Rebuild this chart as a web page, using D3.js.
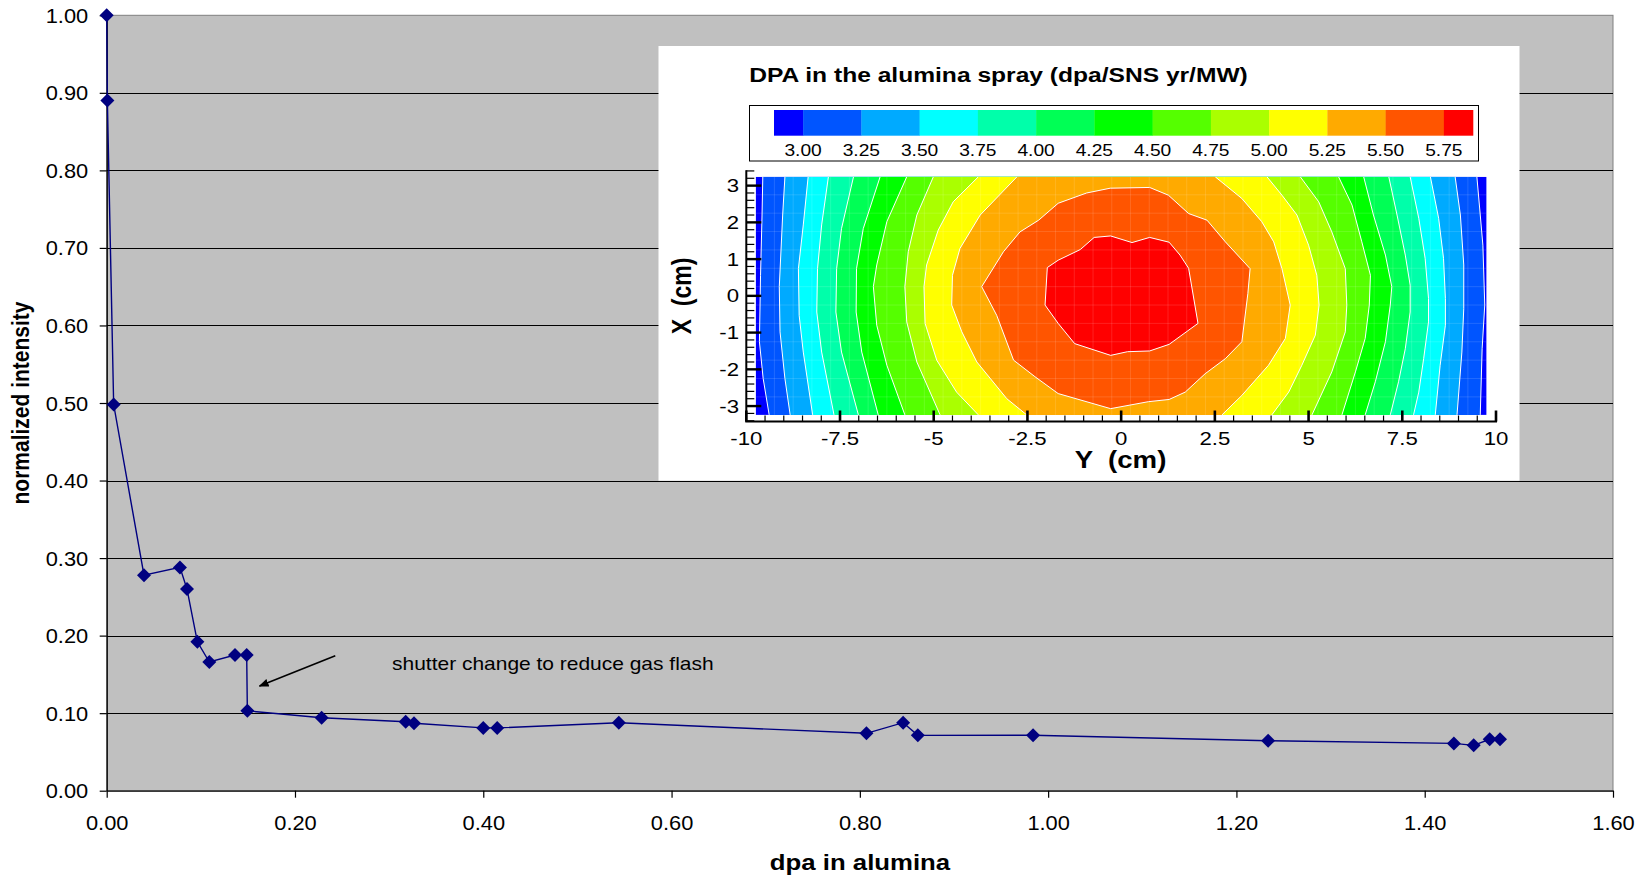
<!DOCTYPE html>
<html>
<head>
<meta charset="utf-8">
<script src="https://cdn.jsdelivr.net/npm/d3@7"></script>
<style>
  html, body { margin: 0; padding: 0; background: #ffffff; }
  svg { display: block; font-family: "Liberation Sans", Arial, Helvetica, sans-serif; }
</style>
</head>
<body>
<svg id="chart" width="1645" height="878"></svg>
<script>
// ---- Irradiation series: normalized intensity vs. dpa in alumina ----
const dpa = [0.000, 0.0007, 0.0074, 0.0396, 0.0778, 0.0853, 0.0963, 0.109, 0.1363, 0.1487,
             0.1494, 0.2283, 0.3176, 0.3264, 0.400, 0.4148, 0.544, 0.807, 0.846, 0.8616,
             0.984, 1.2337, 1.431, 1.452, 1.469, 1.480];
const intensity = [1.000, 0.890, 0.498, 0.278, 0.288, 0.260, 0.192, 0.166, 0.175, 0.175,
                   0.103, 0.094, 0.089, 0.087, 0.081, 0.081, 0.0877, 0.074, 0.0877, 0.0714,
                   0.0716, 0.0645, 0.061, 0.0585, 0.0663, 0.0663];
const xTicks = [0, 0.2, 0.4, 0.6, 0.8, 1.0, 1.2, 1.4, 1.6];
const yTicks = [0, 0.1, 0.2, 0.3, 0.4, 0.5, 0.6, 0.7, 0.8, 0.9, 1.0];

// annotation (data units)
const noteText = "shutter change to reduce gas flash";
const noteTextAt = [0.3031, 0.1557];
const noteArrowFrom = [0.2428, 0.1741];
const noteArrowTo = [0.1623, 0.1350];

// ---- Inset: DPA map in the alumina spray ----
const dpaLevels = [3.00, 3.25, 3.50, 3.75, 4.00, 4.25, 4.50, 4.75, 5.00, 5.25, 5.50, 5.75];
const bandColors = ["#0000ff", "#0055ff", "#00aaff", "#00ffff", "#00ffaa", "#00ff55", "#00ff00",
                    "#55ff00", "#aaff00", "#ffff00", "#ffaa00", "#ff5500", "#ff0000"];
const yCmTicks = [-10, -7.5, -5, -2.5, 0, 2.5, 5, 7.5, 10];
const xCmTicks = [-3, -2, -1, 0, 1, 2, 3];

// contour lines for levels 3.00 ... 5.25, points [Y cm, X cm] from top to bottom
const leftEdges = [
  [[-9.56,3.24],[-9.58,2.20],[-9.62,0.56],[-9.65,-1.25],[-9.55,-2.25],[-9.39,-3.24]],
  [[-8.97,3.24],[-9.03,2.20],[-9.12,0.25],[-9.10,-0.98],[-8.97,-2.25],[-8.83,-3.24]],
  [[-8.35,3.24],[-8.48,1.93],[-8.61,0.74],[-8.59,-0.53],[-8.48,-1.53],[-8.23,-3.24]],
  [[-7.81,3.24],[-7.99,1.93],[-8.10,0.74],[-8.12,-0.44],[-7.99,-1.53],[-7.66,-3.24]],
  [[-7.14,3.24],[-7.46,1.83],[-7.59,0.74],[-7.61,-0.44],[-7.46,-1.53],[-7.01,-3.24]],
  [[-6.43,3.24],[-6.88,1.83],[-7.06,0.74],[-7.07,-0.44],[-6.92,-1.53],[-6.48,-3.24]],
  [[-5.72,3.24],[-6.25,2.02],[-6.52,0.84],[-6.61,0.25],[-6.52,-0.80],[-6.25,-1.89],[-5.77,-3.24]],
  [[-5.01,3.24],[-5.45,2.20],[-5.68,1.20],[-5.77,0.25],[-5.72,-0.71],[-5.45,-1.80],[-4.83,-3.24]],
  [[-3.81,3.24],[-4.48,2.56],[-4.88,1.79],[-5.19,0.84],[-5.26,0.25],[-5.23,-0.75],[-4.92,-1.75],[-4.39,-2.62],[-3.81,-3.24]],
  [[-2.78,3.24],[-3.76,2.20],[-4.30,1.29],[-4.50,0.56],[-4.52,-0.25],[-4.25,-0.98],[-3.85,-1.80],[-3.05,-2.80],[-2.52,-3.24]]
];
const rightEdges = [
  [[9.49,3.24],[9.58,2.20],[9.65,1.38],[9.70,-0.25],[9.63,-1.44],[9.58,-3.24]],
  [[8.91,3.24],[9.05,2.20],[9.14,0.84],[9.14,-0.35],[9.09,-1.53],[8.96,-3.24]],
  [[8.25,3.24],[8.47,2.11],[8.60,1.02],[8.65,-0.07],[8.65,-0.80],[8.51,-1.89],[8.38,-3.24]],
  [[7.71,3.24],[7.94,2.11],[8.11,1.02],[8.20,-0.07],[8.20,-0.71],[8.07,-1.71],[7.94,-2.62],[7.80,-3.24]],
  [[7.14,3.24],[7.36,2.20],[7.58,1.11],[7.71,0.29],[7.71,-0.44],[7.58,-1.44],[7.40,-2.34],[7.18,-3.24]],
  [[6.47,3.24],[6.73,2.20],[7.05,1.11],[7.22,0.25],[7.18,-0.25],[7.05,-1.25],[6.78,-2.34],[6.51,-3.24]],
  [[5.80,3.24],[6.16,2.47],[6.42,1.47],[6.65,0.56],[6.62,-0.25],[6.51,-1.16],[6.25,-2.07],[5.89,-3.24]],
  [[4.78,3.24],[5.27,2.56],[5.62,1.74],[5.98,0.74],[6.02,-0.25],[5.98,-0.98],[5.62,-2.07],[5.09,-3.24]],
  [[3.89,3.24],[4.29,2.74],[4.69,2.20],[5.00,1.38],[5.22,0.56],[5.28,-0.25],[5.18,-1.07],[4.82,-1.89],[4.47,-2.62],[4.02,-3.24]],
  [[2.51,3.24],[3.22,2.65],[3.75,2.02],[4.07,1.47],[4.29,0.74],[4.51,-0.25],[4.38,-1.16],[3.93,-1.89],[3.22,-2.71],[2.69,-3.24]]
];
// closed contours for levels 5.50 and 5.75
const ring550 = [[-0.29,2.93],[0.76,2.95],[1.26,2.74],[1.80,2.24],[2.29,2.06],[2.78,1.47],[3.44,0.74],
                 [3.38,0.06],[3.22,-1.25],[2.78,-1.71],[2.24,-2.12],[1.71,-2.62],[1.28,-2.82],[0.73,-2.88],
                 [-0.28,-3.07],[-1.68,-2.66],[-2.30,-2.20],[-2.87,-1.75],[-3.32,-0.53],[-3.72,0.25],
                 [-3.14,1.20],[-2.70,1.74],[-2.20,2.06],[-1.68,2.52],[-0.92,2.80]];
const ring575 = [[-0.72,1.59],[-0.28,1.63],[0.29,1.45],[0.76,1.59],[1.28,1.46],[1.57,1.11],[1.80,0.75],
                 [2.05,-0.75],[1.28,-1.32],[0.76,-1.50],[0.17,-1.52],[-0.28,-1.62],[-1.24,-1.30],
                 [-1.68,-0.75],[-2.03,-0.25],[-1.97,0.77],[-1.68,0.97],[-1.09,1.26]];

const svg = d3.select("#chart");
const FONT_SX = 1.12;   // horizontal text stretch of the main chart
const INSET_SX = 1.2;   // horizontal text stretch of the inset

function label(parent, x, y, str, o) {
  o = o || {};
  const sx = o.sx || 1;
  let tr = `translate(${x},${y}) scale(${sx},1)`;
  if (o.rotate) tr += ` rotate(${o.rotate})`;
  return parent.append("text")
    .attr("transform", tr)
    .attr("text-anchor", o.anchor || "start")
    .attr("font-size", o.size || 19)
    .attr("font-weight", o.bold ? "bold" : "normal")
    .attr("fill", "#000")
    .style("white-space", "pre")
    .text(str);
}

// ---------- main chart ----------
const plot = { left: 106.7, right: 1613, top: 15.3, bottom: 790.7 };
const x = d3.scaleLinear().domain([0, 1.6]).range([plot.left, plot.right]);
const y = d3.scaleLinear().domain([0, 1.0]).range([plot.bottom, plot.top]);

const main = svg.append("g");
main.append("rect")
  .attr("x", plot.left).attr("y", plot.top)
  .attr("width", plot.right - plot.left).attr("height", plot.bottom - plot.top)
  .attr("fill", "#c0c0c0").attr("stroke", "#808080").attr("stroke-width", 1);

// horizontal gridlines
main.append("g").selectAll("line")
  .data(yTicks.filter(d => d > 0 && d < 1))
  .join("line")
  .attr("x1", plot.left).attr("x2", plot.right)
  .attr("y1", d => Math.round(y(d)) + 0.5).attr("y2", d => Math.round(y(d)) + 0.5)
  .attr("stroke", "#000").attr("stroke-width", 1);

// axes
const yAxis = main.append("g")
  .attr("transform", `translate(${plot.left},0)`)
  .call(d3.axisLeft(y).tickValues(yTicks).tickSize(7).tickSizeOuter(0).tickFormat(d3.format(".2f")));
const xAxis = main.append("g")
  .attr("transform", `translate(0,${plot.bottom})`)
  .call(d3.axisBottom(x).tickValues(xTicks).tickSize(7).tickSizeOuter(0).tickFormat(d3.format(".2f")));
[yAxis, xAxis].forEach(g => {
  g.select(".domain").attr("stroke", "#000").attr("stroke-width", 1.3);
  g.selectAll(".tick line").attr("stroke", "#000").attr("stroke-width", 1.2);
  g.selectAll(".tick text").attr("font-size", 19.5).attr("font-family", "Liberation Sans, Arial, sans-serif")
    .attr("fill", "#000");
});
yAxis.selectAll(".tick text")
  .attr("x", 0).attr("dy", 0)
  .attr("transform", `translate(-18.5,7) scale(${FONT_SX},1)`);
xAxis.selectAll(".tick text")
  .attr("y", 0).attr("dy", 0)
  .attr("transform", `translate(0,39.5) scale(${FONT_SX},1)`);

// axis titles
label(main, 860, 870, "dpa in alumina", { anchor: "middle", size: 23, bold: true, sx: FONT_SX });
label(main, 29, 403, "normalized intensity", { anchor: "middle", size: 21, bold: true, sx: FONT_SX, rotate: -90 });

// series line and diamond markers
const pts = dpa.map((d, i) => [d, intensity[i]]);
main.append("path")
  .datum(pts)
  .attr("fill", "none").attr("stroke", "#000080").attr("stroke-width", 1.4)
  .attr("d", d3.line().x(d => x(d[0])).y(d => y(d[1])));
main.append("g").selectAll("path")
  .data(pts)
  .join("path")
  .attr("transform", d => `translate(${x(d[0])},${y(d[1])})`)
  .attr("d", "M0,-7L7,0L0,7L-7,0Z")
  .attr("fill", "#000080");

// annotation
svg.append("defs").append("marker")
  .attr("id", "arrowhead").attr("viewBox", "0 0 10 10")
  .attr("refX", 9).attr("refY", 5)
  .attr("markerWidth", 10).attr("markerHeight", 8)
  .attr("markerUnits", "userSpaceOnUse")
  .attr("orient", "auto")
  .attr("preserveAspectRatio", "none")
  .append("path").attr("d", "M0,0L10,5L0,10Z").attr("fill", "#000");
main.append("line")
  .attr("x1", x(noteArrowFrom[0])).attr("y1", y(noteArrowFrom[1]))
  .attr("x2", x(noteArrowTo[0])).attr("y2", y(noteArrowTo[1]))
  .attr("stroke", "#000").attr("stroke-width", 1.6)
  .attr("marker-end", "url(#arrowhead)");
label(main, x(noteTextAt[0]), y(noteTextAt[1]), noteText, { size: 19, sx: FONT_SX * 0.985 });

// ---------- inset ----------
const inset = svg.append("g");
inset.append("rect")
  .attr("x", 658.5).attr("y", 46).attr("width", 861).attr("height", 434.7)
  .attr("fill", "#ffffff");

label(inset, 749.3, 82.3, "DPA in the alumina spray (dpa/SNS yr/MW)", { size: 20.5, bold: true, sx: INSET_SX });

// colour legend
inset.append("rect")
  .attr("x", 749.5).attr("y", 105.5).attr("width", 729).attr("height", 55.5)
  .attr("fill", "none").attr("stroke", "#000").attr("stroke-width", 1);
const cb = d3.scaleLinear().domain([2.875, 5.875]).range([774, 1473]);
const bandEdges = [2.875, ...dpaLevels, 5.875];
inset.append("g").selectAll("rect")
  .data(bandColors)
  .join("rect")
  .attr("x", (c, i) => cb(bandEdges[i]))
  .attr("width", (c, i) => cb(bandEdges[i + 1]) - cb(bandEdges[i]) + 0.3)
  .attr("y", 110).attr("height", 25.7)
  .attr("fill", c => c);
dpaLevels.forEach(v => label(inset, cb(v), 156, v.toFixed(2), { anchor: "middle", size: 16, sx: INSET_SX }));

// contour map
const ys = d3.scaleLinear().domain([-10, 10]).range([746.3, 1496]);
const xs = d3.scaleLinear().domain([-3.42, 3.42]).range([421.5, 170.2]);
const ext = { y0: -9.75, y1: 9.75, x0: -3.24, x1: 3.24 };
const cline = d3.line().x(p => ys(p[0])).y(p => xs(p[1]));

svg.append("defs").append("clipPath").attr("id", "mapclip")
  .append("rect")
  .attr("x", ys(ext.y0)).attr("y", xs(ext.x1))
  .attr("width", ys(ext.y1) - ys(ext.y0)).attr("height", xs(ext.x0) - xs(ext.x1));

const map = inset.append("g").attr("clip-path", "url(#mapclip)");
map.append("rect")
  .attr("x", ys(ext.y0)).attr("y", xs(ext.x1))
  .attr("width", ys(ext.y1) - ys(ext.y0)).attr("height", xs(ext.x0) - xs(ext.x1))
  .attr("fill", bandColors[0]);

// open bands: region between left and right contour of each level
leftEdges.forEach((le, i) => {
  const poly = le.concat(rightEdges[i].slice().reverse());
  map.append("path").attr("d", cline(poly) + "Z").attr("fill", bandColors[i + 1]);
});
map.append("path").attr("d", cline(ring550) + "Z").attr("fill", bandColors[11]);
map.append("path").attr("d", cline(ring575) + "Z").attr("fill", bandColors[12]);

// faint cell seams of the computational grid
const seamY = d3.range(ext.y0 + 0.5, ext.y1 - 0.25, 0.5);
const seamX = d3.range(ext.x0 + 0.49, ext.x1 - 0.25, 0.5);
map.append("g").selectAll("line").data(seamY).join("line")
  .attr("x1", d => ys(d)).attr("x2", d => ys(d))
  .attr("y1", xs(ext.x1)).attr("y2", xs(ext.x0))
  .attr("stroke", "#fff").attr("stroke-opacity", 0.16).attr("stroke-width", 0.8);
map.append("g").selectAll("line").data(seamX).join("line")
  .attr("y1", d => xs(d)).attr("y2", d => xs(d))
  .attr("x1", ys(ext.y0)).attr("x2", ys(ext.y1))
  .attr("stroke", "#fff").attr("stroke-opacity", 0.16).attr("stroke-width", 0.8);

// contour lines
const lineG = map.append("g").attr("fill", "none").attr("stroke", "#fff").attr("stroke-width", 1);
leftEdges.concat(rightEdges).forEach(l => lineG.append("path").attr("d", cline(l)));
[ring550, ring575].forEach(r => lineG.append("path").attr("d", cline(r) + "Z"));

// map axes
const axG = inset.append("g").attr("stroke", "#000");
axG.append("line").attr("x1", ys(-10)).attr("x2", ys(-10)).attr("y1", xs(3.42)).attr("y2", xs(-3.42)).attr("stroke-width", 2);
axG.append("line").attr("x1", ys(-10) - 1).attr("x2", ys(10) + 1).attr("y1", xs(-3.42)).attr("y2", xs(-3.42)).attr("stroke-width", 2);
// bottom ticks
const yMinor = d3.range(-10, 10.001, 0.5).filter(v => !yCmTicks.includes(v));
axG.append("g").selectAll("line").data(yMinor).join("line")
  .attr("x1", d => ys(d)).attr("x2", d => ys(d))
  .attr("y1", xs(-3.42)).attr("y2", xs(-3.42) - 6).attr("stroke-width", 1.2);
axG.append("g").selectAll("line").data(yCmTicks).join("line")
  .attr("x1", d => ys(d)).attr("x2", d => ys(d))
  .attr("y1", xs(-3.42)).attr("y2", xs(-3.42) - 11).attr("stroke-width", 2.6);
// left ticks
const xMinor = d3.range(-34, 35, 2).map(v => v / 10).filter(v => !Number.isInteger(v));
axG.append("g").selectAll("line").data(xMinor).join("line")
  .attr("y1", d => xs(d)).attr("y2", d => xs(d))
  .attr("x1", ys(-10)).attr("x2", ys(-10) + 8).attr("stroke-width", 1.2);
axG.append("g").selectAll("line").data(xCmTicks).join("line")
  .attr("y1", d => xs(d)).attr("y2", d => xs(d))
  .attr("x1", ys(-10)).attr("x2", ys(-10) + 15).attr("stroke-width", 2.4);

yCmTicks.forEach(v => label(inset, ys(v), 445, String(v), { anchor: "middle", size: 18.5, sx: INSET_SX }));
xCmTicks.forEach(v => label(inset, 739, xs(v) + 6.6, String(v), { anchor: "end", size: 18.5, sx: INSET_SX }));
label(inset, 1120.6, 468, "Y  (cm)", { anchor: "middle", size: 23, bold: true, sx: INSET_SX });
label(inset, 691, 296, "X  (cm)", { anchor: "middle", size: 23, bold: true, sx: INSET_SX, rotate: -90 });
</script>
</body>
</html>
